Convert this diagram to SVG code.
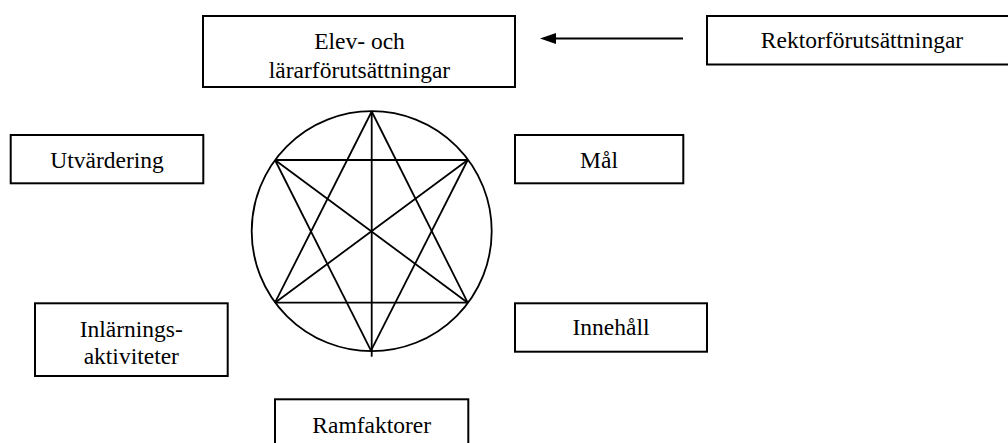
<svg xmlns="http://www.w3.org/2000/svg" width="1008" height="443" viewBox="0 0 1008 443">
<style>
.box{fill:#fff;stroke:#000;stroke-width:2}
.t{font-family:"Liberation Serif","Times New Roman",serif;font-size:23.5px;fill:#000;text-anchor:middle}
.ln{stroke:#000;stroke-width:1.8;fill:none}
</style>
<defs>
<clipPath id="clipElev"><rect x="204" y="17" width="310" height="69"/></clipPath>
</defs>
<g id="connectors">
<line class="ln" x1="683" y1="38.5" x2="555" y2="38.5"/>
<path d="M540,38.5 L556,33 L556,44 Z" fill="#000"/>
</g>
<g id="star">
<circle class="ln" cx="371.7" cy="231.2" r="120"/>
<line class="ln" x1="371.7" y1="111.5" x2="371.7" y2="356.7"/>
<line class="ln" x1="275" y1="160" x2="467.7" y2="160"/>
<line class="ln" x1="275" y1="302.7" x2="467.7" y2="302.7"/>
<line class="ln" x1="371.7" y1="111.5" x2="275" y2="302.7"/>
<line class="ln" x1="371.7" y1="111.5" x2="467.7" y2="302.7"/>
<line class="ln" x1="371" y1="350.7" x2="275" y2="160"/>
<line class="ln" x1="371" y1="350.7" x2="467.7" y2="160"/>
<line class="ln" x1="275" y1="160" x2="467.7" y2="302.7"/>
<line class="ln" x1="467.7" y1="160" x2="275" y2="302.7"/>
</g>
<g id="elev">
<rect class="box" x="203" y="16" width="312" height="71"/>
<g clip-path="url(#clipElev)">
<text class="t" x="359.5" y="48.5">Elev- och</text>
<text class="t" x="359.5" y="78">lärarförutsättningar</text>
</g>
</g>
<g id="rektor">
<rect class="box" x="707" y="16" width="312" height="48.5"/>
<text class="t" x="862" y="47.7">Rektorförutsättningar</text>
</g>
<g id="utvardering">
<rect class="box" x="10.7" y="135" width="192.6" height="48.3"/>
<text class="t" x="107" y="168.3">Utvärdering</text>
</g>
<g id="mal">
<rect class="box" x="515" y="135" width="168.3" height="48.3"/>
<text class="t" x="599" y="167.7">Mål</text>
</g>
<g id="inlarning">
<rect class="box" x="35" y="303.3" width="192.7" height="72.7"/>
<text class="t" x="131.3" y="336.7">Inlärnings-</text>
<text class="t" x="131.3" y="364.3">aktiviteter</text>
</g>
<g id="innehall">
<rect class="box" x="515" y="303.3" width="192" height="48.4"/>
<text class="t" x="611" y="335">Innehåll</text>
</g>
<g id="ramfaktorer">
<rect class="box" x="275" y="399.3" width="193.3" height="60"/>
<text class="t" x="371.7" y="432.7">Ramfaktorer</text>
</g>
</svg>
